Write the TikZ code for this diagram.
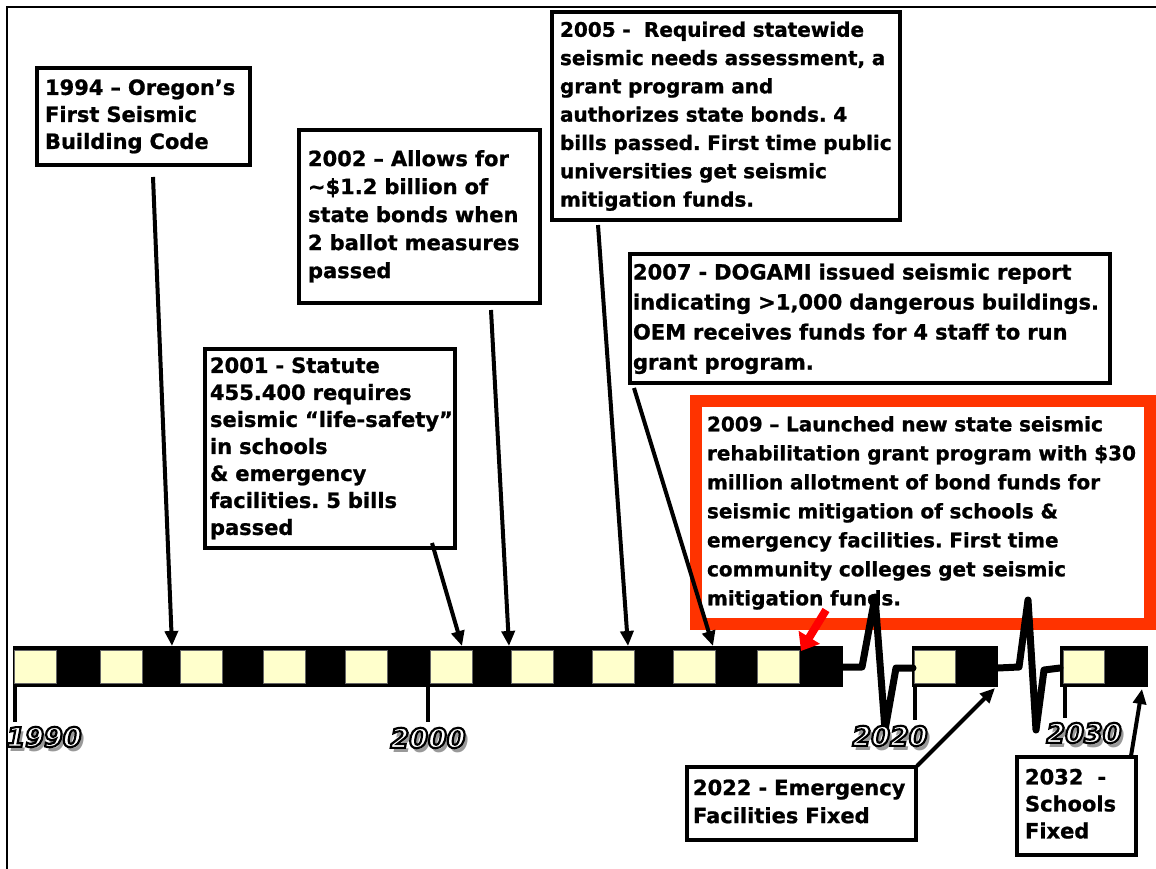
\documentclass[tikz,border=0pt]{standalone}
\usepackage{fontspec}
\setmainfont{DejaVu Sans}
\newfontfamily\heavyfont{DejaVu Sans Bold}[FakeBold=1.0]
\newfontfamily\yearfont{DejaVu Sans Bold Oblique}[FakeBold=8]
\newfontfamily\yearshfont{DejaVu Sans Bold Oblique}
\usetikzlibrary{arrows.meta}
\definecolor{cream}{HTML}{FFFFCC}
\definecolor{redbox}{HTML}{FF3300}
\definecolor{redarrow}{HTML}{FF0000}
\newcommand{\lns}[1]{\begin{tabular}{@{}l@{}}#1\end{tabular}}
\newcommand{\outl}[1]{{\color{white}\special{pdf:code 0 0 0 RG}#1}}
\frenchspacing
\begin{document}
\begin{tikzpicture}[x=1pt,y=-1pt,
  tbox/.style={draw=black, line width=4pt, fill=white, align=left, inner ysep=0pt},
  f27/.style={font=\heavyfont\fontsize{21}{27}\selectfont},
  f28/.style={font=\heavyfont\fontsize{21}{28}\selectfont},
  f28s/.style={font=\heavyfont\fontsize{20}{28.3}\selectfont},
  f29/.style={font=\heavyfont\fontsize{20}{29}\selectfont},
  f30/.style={font=\heavyfont\fontsize{21}{30}\selectfont},
  arr/.style={line width=4pt, -{Triangle[length=15pt,width=13pt]}},
  sq/.style={fill=cream, draw=black!60, line width=0.6pt},
  tickline/.style={line width=4pt},
  wave/.style={line width=7pt, line join=round, line cap=round},
  yr/.style={font=\yearfont\fontsize{27}{27}\selectfont, inner sep=0pt},
  yrs/.style={font=\yearshfont\fontsize{27}{27}\selectfont, inner sep=0pt, text=black!40}
]
\useasboundingbox (0,0) rectangle (1156,869);
% frame
\draw[line width=1.6pt] (7,869) -- (7,7) -- (1156,7);

% text boxes
\node[tbox, f27, minimum width=213pt, minimum height=97pt, text width=197pt, inner xsep=8pt] (b1994) at (143.5,116.5)
  {\lns{1994 – Oregon’s\\First Seismic\\Building Code}};
\node[tbox, f28, minimum width=241pt, minimum height=173pt, text width=223pt, inner xsep=9pt] (b2002) at (419.5,216.5)
  {\lns{2002 – Allows for\\\textasciitilde\$1.2 billion of\\state bonds when\\2 ballot measures\\passed}};
\node[tbox, f27, minimum width=250pt, minimum height=199pt, text width=240pt, inner xsep=5pt] (b2001) at (330,448.5)
  {\lns{2001 - Statute\\455.400 requires\\seismic “life-safety”\\in schools\\\& emergency\\facilities. 5 bills\\passed}};
\node[tbox, f28s, minimum width=348pt, minimum height=208pt, text width=332pt, inner xsep=8pt] (b2005) at (726,116)
  {\lns{2005 - \ Required statewide\\seismic needs assessment, a\\grant program and\\authorizes state bonds. 4\\bills passed. First time public\\universities get seismic\\mitigation funds.}};
\node[tbox, f30, minimum width=480pt, minimum height=129pt, text width=474pt, inner xsep=3pt] (b2007) at (870,318.5)
  {\lns{2007 - DOGAMI issued seismic report\\indicating >1,000 dangerous buildings.\\OEM receives funds for 4 staff to run\\grant program.}};
\node[tbox, f29, draw=redbox, line width=12pt, minimum width=454pt, minimum height=223pt, text width=432pt, inner xsep=11pt] (b2009) at (923,512.5)
  {\lns{2009 – Launched new state seismic\\rehabilitation grant program with \$30\\million allotment of bond funds for\\seismic mitigation of schools \&\\emergency facilities. First time\\community colleges get seismic\\mitigation funds.}};
\node[tbox, f28, minimum width=229pt, minimum height=73pt, text width=217pt, inner xsep=6pt] (b2022) at (801.5,803.5)
  {\lns{2022 - Emergency\\Facilities Fixed}};
\node[tbox, f27, minimum width=119pt, minimum height=98pt, text width=103pt, inner xsep=8pt] (b2032) at (1076.5,806)
  {\lns{2032 \ -\\Schools\\Fixed}};

% timeline bar
\fill (13,646) rectangle (843,687);
\foreach \x in {14,100,180,263,345,430,511,592,673,757}
  \draw[sq] (\x,650) rectangle ++(42,33);
\fill (912,646) rectangle (998,687);
\draw[sq] (914,650) rectangle (955,683);
\fill (1060,646) rectangle (1148,687);
\draw[sq] (1063,650) rectangle (1104,683);

% ticks
\draw[tickline] (15,687) -- (15,722);
\draw[tickline] (428,687) -- (428,722);
\draw[tickline] (915,687) -- (915,720);
\draw[tickline] (1065,687) -- (1065,718);

% squiggles
\draw[wave] (843,667) -- (862,667) -- (875,597) -- (885,730) -- (896,668) -- (913,668);
\draw[wave] (998,668) -- (1019,667) -- (1028,600) -- (1036,730) -- (1044,670) -- (1060,668);

% year labels (shadow, then outlined text)
\node[yrs] (y1990s) at (47,742) {1990};
\node[yr]  (y1990) at (44,737) {\outl{1990}};
\node[yrs] (y2000s) at (431,743) {2000};
\node[yr]  (y2000) at (428,738) {\outl{2000}};
\node[yrs] (y2020s) at (893,741) {2020};
\node[yr]  (y2020) at (890,736) {\outl{2020}};
\node[yrs] (y2030s) at (1087,738) {2030};
\node[yr]  (y2030) at (1084,733) {\outl{2030}};

% arrow end points
\coordinate (a1994s) at (153,177);
\coordinate (a1994e) at (172,646);
\coordinate (a2002s) at (491,310);
\coordinate (a2002e) at (509,646);
\coordinate (a2001s) at (432,543);
\coordinate (a2001e) at (462,646);
\coordinate (a2005s) at (598,225);
\coordinate (a2005e) at (628,646);
\coordinate (a2007s) at (634,388);
\coordinate (a2007e) at (713,646);
\coordinate (a2009s) at (826,610);
\coordinate (a2009e) at (801,651);
\coordinate (a2022s) at (917,766);
\coordinate (a2022e) at (995,688);
\coordinate (a2032s) at (1131,756);
\coordinate (a2032e) at (1142,689);

\draw[arr] (a1994s) -- (a1994e);
\draw[arr] (a2002s) -- (a2002e);
\draw[arr] (a2001s) -- (a2001e);
\draw[arr] (a2005s) -- (a2005e);
\draw[arr] (a2007s) -- (a2007e);
\draw[line width=8pt, redarrow, -{Triangle[length=16pt,width=24pt]}] (a2009s) -- (a2009e);
\draw[arr] (a2022s) -- (a2022e);
\draw[arr] (a2032s) -- (a2032e);
\end{tikzpicture}
\end{document}
